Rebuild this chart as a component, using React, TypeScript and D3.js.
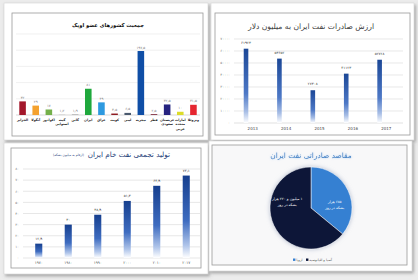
import React from "react";
import * as d3 from "d3";

const opecCountries = ["الجزایر", "آنگولا", "اکوادور", "گینه استوایی", "گابن", "ایران", "عراق", "کویت", "لیبی", "نیجریه", "قطر", "عربستان سعودی", "امارات متحده عربی", "ونزوئلا"];
const opecPopulation = [42, 29, 17, 1.2, 1.9, 81, 39, 4.5, 6.5, 197.5, 2.5, 32.5, 10, 31.5];
const opecColors = ["#a3182c", "#f4a12e", "#74b04a", "#c4c4c4", "#a8a8a8", "#1fa83c", "#2e9ae0", "#8e1b22", "#4a5a6e", "#0f4ea6", "#7a1f35", "#26237f", "#dcdc2a", "#e52630"];
const opecGridTicks = [0, 50, 100, 150, 200, 250];

const exportYears = ["2013", "2014", "2015", "2016", "2017"];
const exportValues = [61923, 53652, 27308, 41123, 52728];
const exportTicks = [0, 10000, 20000, 30000, 40000, 50000, 60000, 70000];

const prodYears = ["۱۹۷۰", "۱۹۸۰", "۱۹۹۰", "۲۰۰۰", "۲۰۱۰", "۲۰۱۷"];
const prodValues = [12.9, 30, 38.9, 51.3, 64.9, 74.1];
const prodTicks = [0, 10, 20, 30, 40, 50, 60, 70, 80];

const pieLabels = ["اروپا", "آسیا و اقیانوسیه"];
const pieValues = [685, 1220];
const pieTexts = [["۶۸۵ هزار", "بشکه در روز"], ["۱ میلیون و ۲۲۰ هزار", "بشکه در روز"]];
const pieColors = ["#3680d2", "#0b1538"];

const FONT = "DejaVu Sans, sans-serif";

function fa(v: number | string): string {
  return String(v).replace(/[0-9]/g, (d) => "۰۱۲۳۴۵۶۷۸۹"[+d]).replace(/\./g, "٫");
}

function Card({ x, y, w, h, ix, iy, iw, ih, fill = "#fff" }: any) {
  return (
    <g>
      <rect x={x} y={y} width={w} height={h} fill="#fff" stroke="#d4d4d4" strokeWidth={0.6} filter="url(#cardShadow)" />
      <rect x={ix} y={iy} width={iw} height={ih} fill={fill} stroke="#9a9a9a" strokeWidth={0.8} />
    </g>
  );
}

function OpecPanel() {
  const x = d3.scaleBand<string>().domain(opecCountries).range([16, 200]).paddingInner(0.5).paddingOuter(0.25);
  const y = d3.scaleLinear().domain([0, 250]).range([115, 34]);
  return (
    <g>
      <text x={108} y={27} textAnchor="middle" fontSize={5.2} fontWeight="bold" fill="#111" fontFamily={FONT}>جمعیت کشورهای عضو اوپک</text>
      {opecGridTicks.map((t) => (
        <line key={t} x1={16} x2={200} y1={y(t)} y2={y(t)} stroke={t === 0 ? "#bdbdbd" : "#e6e6e6"} strokeWidth={0.6} />
      ))}
      {opecCountries.map((c, i) => {
        const bx = x(c)!;
        const bw = x.bandwidth();
        const top = y(opecPopulation[i]);
        const lines = c.split(" ");
        return (
          <g key={c}>
            <rect x={bx} y={top} width={bw} height={y(0) - top} fill={opecColors[i]} />
            <text x={bx + bw / 2} y={top - 2.5} textAnchor="middle" fontSize={3.6} fill="#777" fontFamily={FONT}>{fa(opecPopulation[i])}</text>
            {lines.map((l, j) => (
              <text key={j} x={bx + bw / 2} y={120.5 + j * 4.6} textAnchor="middle" fontSize={3.3} fontWeight="bold" fill="#222" fontFamily={FONT}>{l}</text>
            ))}
          </g>
        );
      })}
    </g>
  );
}

function ExportPanel() {
  const x = d3.scaleBand<string>().domain(exportYears).range([236, 403]);
  const y = d3.scaleLinear().domain([0, 70000]).range([123, 39]);
  const bw = 4.6;
  return (
    <g>
      <text x={311} y={29} textAnchor="middle" fontSize={7.6} fill="#3a3a3a" fontFamily={FONT}>ارزش صادرات نفت ایران به میلیون دلار</text>
      {exportTicks.map((t) => (
        <g key={t}>
          <line x1={234} x2={403} y1={y(t)} y2={y(t)} stroke={t === 0 ? "#cfcfcf" : "#d9d9d9"} strokeWidth={0.6} />
          <text x={230} y={y(t) + 1.3} textAnchor="end" fontSize={3.6} fill="#777" fontFamily={FONT}>{fa(t)}</text>
        </g>
      ))}
      {exportYears.map((yr, i) => {
        const cx = x(yr)! + x.bandwidth() * 0.3;
        const top = y(exportValues[i]);
        return (
          <g key={yr}>
            <rect x={cx - bw / 2} y={top} width={bw} height={y(0) - top} fill="url(#barGrad)" />
            <text x={cx} y={top - 5} textAnchor="middle" fontSize={3.7} fill="#333" fontFamily={FONT}>{fa(exportValues[i])}</text>
            <text x={x(yr)! + x.bandwidth() / 2} y={129.5} textAnchor="middle" fontSize={4} fill="#444" fontFamily={FONT}>{yr}</text>
          </g>
        );
      })}
    </g>
  );
}

function ProdPanel() {
  const x = d3.scaleBand<string>().domain(prodYears).range([24, 201]).paddingInner(0.76).paddingOuter(0.38);
  const y = d3.scaleLinear().domain([0, 80]).range([258, 169]);
  return (
    <g>
      <text x={170} y={157} textAnchor="end" fontFamily={FONT} fill="#1f3f7a" fontSize={7.2}>تولید تجمعی نفت خام ایران</text>
      <text x={84} y={156} textAnchor="start" fontFamily={FONT} fill="#1f3f7a" fontSize={3.2} direction="rtl" unicodeBidi="embed">(ارقام به میلیون بشکه)</text>
      {prodTicks.map((t) => (
        <g key={t}>
          <line x1={23} x2={200} y1={y(t)} y2={y(t)} stroke="#d6d6d6" strokeWidth={0.6} />
          <text x={19} y={y(t) + 1.3} textAnchor="end" fontSize={3.6} fill="#777" fontFamily={FONT}>{fa(t)}</text>
        </g>
      ))}
      {prodYears.map((yr, i) => {
        const bx = x(yr)!;
        const bw = x.bandwidth();
        const top = y(prodValues[i]);
        return (
          <g key={yr}>
            <rect x={bx} y={top} width={bw} height={y(0) - top} fill="url(#barGrad2)" />
            <text x={bx + bw / 2} y={top - 4} textAnchor="middle" fontSize={3.7} fill="#333" fontFamily={FONT}>{fa(prodValues[i])}</text>
            <text x={bx + bw / 2} y={263.5} textAnchor="middle" fontSize={3.8} fill="#555" fontFamily={FONT}>{yr}</text>
          </g>
        );
      })}
    </g>
  );
}

function PiePanel() {
  const cx = 311, cy = 208, r = 41;
  const pie = d3.pie<number>().sort(null).value((d) => d);
  const arcs = pie(pieValues);
  const arc = d3.arc<d3.PieArcDatum<number>>().innerRadius(0).outerRadius(r);
  const labelArc = d3.arc<d3.PieArcDatum<number>>().innerRadius(r * 0.64).outerRadius(r * 0.64);
  const lineY = [[-5, 0.5], [-8, -2]];
  return (
    <g>
      <text x={311} y={158} textAnchor="middle" fontSize={7.4} fill="#3d7fc4" fontFamily={FONT} filter="url(#glow)">مقاصد صادراتی نفت ایران</text>
      <g transform={`translate(${cx},${cy})`}>
        <g filter="url(#pieShadow)">
          {arcs.map((a, i) => (
            <path key={i} d={arc(a)!} fill={pieColors[i]} stroke="#fff" strokeWidth={0.5} />
          ))}
        </g>
        {arcs.map((a, i) => {
          const [lx] = labelArc.centroid(a);
          return (
            <g key={"l" + i}>
              {pieTexts[i].map((t, j) => (
                <text key={j} x={lx} y={lineY[i][j]} textAnchor="middle" fontSize={3.6} fill="#fff" direction="rtl" unicodeBidi="embed" fontFamily={FONT}>{t}</text>
              ))}
            </g>
          );
        })}
      </g>
      {pieLabels.map((l, i) => {
        const lx = i === 0 ? 293 : 306;
        return (
          <g key={l}>
            <rect x={lx} y={258.5} width={2.4} height={2.4} fill={pieColors[i]} />
            <text x={lx + 3.3} y={261} fontSize={3.4} fill="#555" fontFamily={FONT} textAnchor="start">{l}</text>
          </g>
        );
      })}
    </g>
  );
}

export default function App() {
  return (
    <svg width={418} height={280} style={{ position: "absolute", left: 0, top: 0 }} fontFamily={FONT}>
      <defs>
        <filter id="cardShadow" x="-10%" y="-10%" width="125%" height="125%">
          <feDropShadow dx={1.5} dy={2} stdDeviation={1.6} floodColor="#6a6a6a" floodOpacity={0.55} />
        </filter>
        <filter id="pieShadow" x="-20%" y="-20%" width="140%" height="140%">
          <feDropShadow dx={0} dy={0} stdDeviation={2} floodColor="#9aa6c0" floodOpacity={0.7} />
        </filter>
        <filter id="glow" x="-10%" y="-30%" width="120%" height="160%">
          <feDropShadow dx={0} dy={0} stdDeviation={1.2} floodColor="#9ec4ee" floodOpacity={0.8} />
        </filter>
        <linearGradient id="barGrad" x1="0" y1="0" x2="0" y2="1">
          <stop offset="0" stopColor="#1b4796" />
          <stop offset="0.6" stopColor="#4d78c6" />
          <stop offset="0.85" stopColor="#a9bfe6" />
          <stop offset="1" stopColor="#ffffff" />
        </linearGradient>
        <linearGradient id="barGrad2" x1="0" y1="0" x2="0" y2="1">
          <stop offset="0" stopColor="#163f8e" />
          <stop offset="0.55" stopColor="#3e6cc0" />
          <stop offset="0.85" stopColor="#b0c5ea" />
          <stop offset="1" stopColor="#ffffff" />
        </linearGradient>
      </defs>
      <rect x={0} y={0} width={418} height={280} fill="#ececec" />
      <Card x={4} y={3} w={204} h={137} ix={12} iy={13} iw={191} ih={123} />
      <Card x={211} y={3} w={203} h={137} ix={215} iy={13} iw={195} ih={122} />
      <Card x={4} y={143} w={204} h={131} ix={11} iy={148} iw={190} ih={120} />
      <Card x={209} y={141} w={203} h={130} ix={212} iy={145} iw={195} ih={120} fill="#f8f8f9" />
      <OpecPanel />
      <ExportPanel />
      <ProdPanel />
      <PiePanel />
    </svg>
  );
}
